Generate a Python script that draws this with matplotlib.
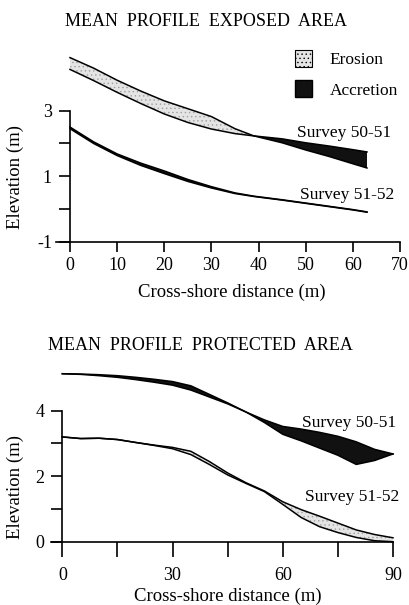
import numpy as np
import matplotlib
matplotlib.use("Agg")
import matplotlib.pyplot as plt
from matplotlib.patches import Patch

plt.rcParams["font.family"] = ["Liberation Serif", "DejaVu Serif"]
plt.rcParams["hatch.linewidth"] = 0.5

# ---- exposed area (top panel) ----
x_exp = [0, 5, 10, 15, 20, 25, 30, 35, 39, 45, 50, 55, 60, 63]
exp_5051_a = [4.62, 4.30, 3.93, 3.60, 3.30, 3.06, 2.82, 2.45, 2.23, 2.02, 1.80, 1.60, 1.38, 1.25]
exp_5051_b = [4.26, 3.92, 3.56, 3.22, 2.90, 2.64, 2.44, 2.30, 2.23, 2.14, 2.02, 1.92, 1.81, 1.74]
exp_5152_a = [2.45, 2.00, 1.63, 1.33, 1.08, 0.84, 0.64, 0.47, 0.38, 0.27, 0.17, 0.07, -0.03, -0.10]
exp_5152_b = [2.50, 2.05, 1.68, 1.40, 1.16, 0.90, 0.68, 0.49, 0.39, 0.28, 0.18, 0.08, -0.02, -0.09]

# ---- protected area (bottom panel) ----
x_prot = [0, 5, 10, 15, 20, 25, 30, 35, 40, 45, 50, 55, 60, 65, 70, 75, 80, 85, 90]
prot_5051_a = [5.13, 5.11, 5.07, 5.02, 4.95, 4.87, 4.78, 4.63, 4.42, 4.21, 3.96, 3.64, 3.28, 3.08, 2.86, 2.64, 2.36, 2.48, 2.68]
prot_5051_b = [5.13, 5.12, 5.10, 5.07, 5.02, 4.96, 4.89, 4.76, 4.50, 4.24, 3.96, 3.72, 3.52, 3.44, 3.34, 3.22, 3.05, 2.82, 2.68]
prot_5152_a = [3.20, 3.15, 3.16, 3.12, 3.03, 2.95, 2.88, 2.76, 2.45, 2.10, 1.80, 1.55, 1.22, 0.98, 0.78, 0.57, 0.36, 0.22, 0.12]
prot_5152_b = [3.20, 3.15, 3.16, 3.12, 3.03, 2.94, 2.84, 2.66, 2.36, 2.04, 1.78, 1.53, 1.14, 0.74, 0.46, 0.28, 0.13, 0.03, 0.00]

EROS = dict(facecolor="#e4e4e4", edgecolor="#a0a0a0", hatch="....", linewidth=0)
ACCR = dict(facecolor="#111111", edgecolor="none", linewidth=0)


def draw_pair(ax, x, a, b):
    x = np.array(x, float)
    a = np.array(a, float)
    b = np.array(b, float)
    ax.fill_between(x, a, b, where=a >= b, interpolate=True, clip_on=False, **EROS)
    ax.fill_between(x, a, b, where=b >= a, interpolate=True, clip_on=False, **ACCR)
    ax.plot(x, a, color="black", lw=1.1, clip_on=False)
    ax.plot(x, b, color="black", lw=1.1, clip_on=False)


def style(ax):
    for s in ("top", "right"):
        ax.spines[s].set_visible(False)
    for s in ("left", "bottom"):
        ax.spines[s].set_linewidth(1.2)
    # y axis sits at x = 0, the x axis runs a little past it to the left
    ax.spines["left"].set_position(("data", 0))
    ax.tick_params(direction="out", width=1.2, labelsize=13, pad=6)


fig = plt.figure(figsize=(4.1, 6.05), dpi=100)

# top panel
ax1 = fig.add_axes([0.1362, 0.6005, 0.8394, 0.314])
draw_pair(ax1, x_exp, exp_5051_a, exp_5051_b)
draw_pair(ax1, x_exp, exp_5152_a, exp_5152_b)
ax1.set_xlim(-3, 70)
ax1.set_ylim(-1, 4.8)
style(ax1)
ax1.spines["left"].set_bounds(-1, 3)
ax1.set_xticks(range(0, 71, 10))
ax1.set_yticks([-1, 0, 1, 2, 3])
ax1.set_yticklabels(["-1", "", "1", "", "3"])
ax1.tick_params(axis="x", length=7, pad=4)
ax1.tick_params(axis="y", length=8, pad=5)
ax1.text(48.2, 2.32, "Survey 50-51", fontsize=12.5, va="center")
ax1.text(48.8, 0.43, "Survey 51-52", fontsize=12.5, va="center")
ax1.legend(handles=[Patch(facecolor="#e4e4e4", edgecolor="black", hatch="....", linewidth=0.8, label="Erosion"),
                    Patch(facecolor="#111111", edgecolor="black", label="Accretion")],
           loc="upper left", bbox_to_anchor=(295 / 410, 1 - 50 / 605), bbox_transform=fig.transFigure,
           frameon=False, fontsize=12.5, borderpad=0, borderaxespad=0,
           handlelength=1.0, handleheight=1.1, handletextpad=1.0, labelspacing=0.7)

# bottom panel
ax2 = fig.add_axes([0.1251, 0.1046, 0.8334, 0.2923])
draw_pair(ax2, x_prot, prot_5051_a, prot_5051_b)
draw_pair(ax2, x_prot, prot_5152_a, prot_5152_b)
ax2.set_xlim(-3, 90)
ax2.set_ylim(0, 5.4)
style(ax2)
ax2.spines["left"].set_bounds(0, 4)
ax2.set_xticks(range(0, 91, 15))
ax2.set_xticklabels(["0", "", "30", "", "60", "", "90"])
ax2.set_yticks([0, 1, 2, 3, 4])
ax2.set_yticklabels(["0", "", "2", "", "4"])
ax2.tick_params(axis="x", length=11, pad=7)
ax2.tick_params(axis="y", length=8, pad=5)
ax2.text(65.2, 3.62, "Survey 50-51", fontsize=12.5, va="center")
ax2.text(66.1, 1.36, "Survey 51-52", fontsize=12.5, va="center")

# titles and axis labels
fig.text(0.502, 0.957, "MEAN  PROFILE  EXPOSED  AREA", fontsize=13, ha="center", va="baseline")
fig.text(0.488, 0.4215, "MEAN  PROFILE  PROTECTED  AREA", fontsize=13, ha="center", va="baseline")
fig.text(0.566, 0.509, "Cross-shore distance (m)", fontsize=13.5, ha="center", va="baseline")
fig.text(0.556, 0.0075, "Cross-shore distance (m)", fontsize=13.5, ha="center", va="baseline")
fig.text(0.0366, 0.7074, "Elevation (m)", fontsize=13.5, rotation=90, ha="center", va="center")
fig.text(0.0366, 0.195, "Elevation (m)", fontsize=13.5, rotation=90, ha="center", va="center")

fig.savefig("out.png", dpi=100)
